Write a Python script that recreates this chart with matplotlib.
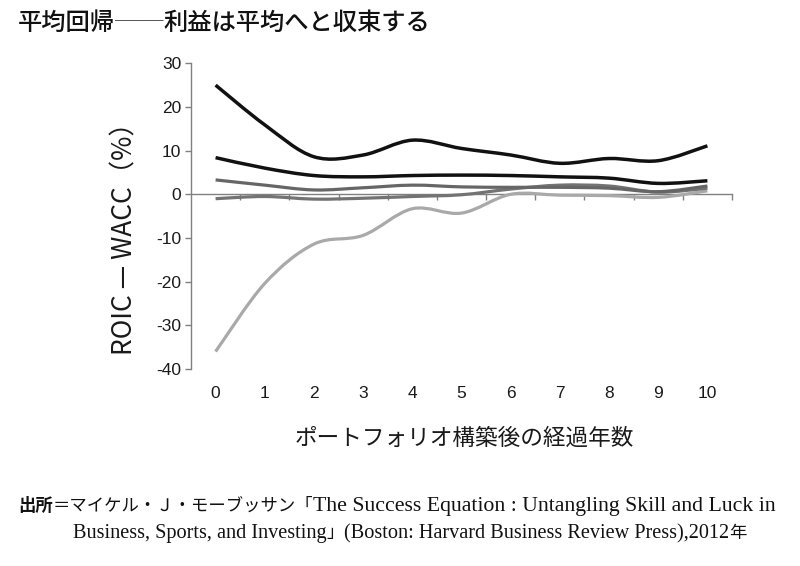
import matplotlib
matplotlib.use("Agg")
import matplotlib.pyplot as plt
from matplotlib.path import Path
from matplotlib.patches import PathPatch

# ---------------- data ----------------
years = list(range(11))
year_labels = [str(y) for y in years]
series_top = [25.0, 15.9, 8.6, 9.0, 12.4, 10.5, 9.0, 7.1, 8.2, 7.7, 11.1]
series_second = [8.4, 6.0, 4.3, 4.0, 4.3, 4.4, 4.3, 4.0, 3.7, 2.5, 3.1]
series_third = [3.3, 2.1, 1.0, 1.5, 2.1, 1.7, 1.6, 1.6, 1.4, 0.6, 1.9]
series_fourth = [-1.0, -0.5, -1.1, -0.9, -0.5, -0.1, 1.2, 2.1, 1.9, 0.5, 1.4]
series_bottom = [-36.0, -20.4, -11.4, -9.4, -3.3, -4.3, 0.0, -0.2, -0.3, -0.7, 0.8]
y_ticks = [30, 20, 10, 0, -10, -20, -30, -40]

title_a = "平均回帰"
title_dash = "──"
title_b = "利益は平均へと収束する"
xlabel = "ポートフォリオ構築後の経過年数"
ylabel = "ROIC — WACC（%）"
src_line1 = [("出所", "head"), ("＝マイケル・Ｊ・モーブッサン「", "cjk"),
             ("The Success Equation : Untangling Skill and Luck in", "latin1")]
src_line2 = [("Business, Sports, and Investing", "latin2"), ("」", "cjk"),
             ("(Boston: Harvard Business Review Press),2012", "latin2"), ("年", "cjk")]

CJK = ["Noto Sans CJK JP", "DejaVu Sans"]
SERIF = ["Liberation Serif", "Noto Sans CJK JP"]


def smooth_path(xs, ys):
    """Smoothed (Catmull-Rom style) Bezier path through the data points."""
    pts = list(zip(xs, ys))
    verts = [pts[0]]
    codes = [Path.MOVETO]
    n = len(pts)
    for i in range(n - 1):
        p0 = pts[i - 1] if i > 0 else pts[i]
        p1 = pts[i]
        p2 = pts[i + 1]
        p3 = pts[i + 2] if i + 2 < n else pts[i + 1]
        c1 = (p1[0] + (p2[0] - p0[0]) / 6.0, p1[1] + (p2[1] - p0[1]) / 6.0)
        c2 = (p2[0] - (p3[0] - p1[0]) / 6.0, p2[1] - (p3[1] - p1[1]) / 6.0)
        verts += [c1, c2, p2]
        codes += [Path.CURVE4] * 3
    return Path(verts, codes)


W, H = 800, 566
fig = plt.figure(figsize=(W / 100, H / 100), dpi=100)
ax_l, ax_r, ax_t, ax_b = 191, 732, 63.3, 369
ax = fig.add_axes([ax_l / W, 1 - ax_b / H, (ax_r - ax_l) / W, (ax_b - ax_t) / H])

axis_col = "#808080"
lines = [
    (series_bottom, "#a9a9a9", 2.3),
    (series_fourth, "#737373", 2.3),
    (series_third, "#666666", 2.3),
    (series_second, "#111111", 2.5),
    (series_top, "#111111", 2.5),
]
for vals, col, lw in lines:
    patch = PathPatch(smooth_path(years, vals), facecolor="none", edgecolor=col,
                      lw=lw, capstyle="butt", joinstyle="round", zorder=3)
    ax.add_patch(patch)

ax.set_xlim(-0.5, 10.5)
ax.set_ylim(-40, 30)

for s in ["top", "right"]:
    ax.spines[s].set_visible(False)
ax.spines["bottom"].set_position(("data", 0))
ax.spines["bottom"].set_color(axis_col)
ax.spines["left"].set_color(axis_col)
ax.spines["bottom"].set_linewidth(1.0)
ax.spines["left"].set_linewidth(1.0)

ax.set_xticks([y + 0.5 for y in years])
ax.set_xticklabels([])
ax.tick_params(axis="x", direction="out", length=4, color=axis_col, width=1)

ax.set_yticks(y_ticks)
ax.set_yticklabels([str(v) for v in y_ticks], fontsize=12.5, family="Liberation Sans",
                   color="#1a1a1a")
ax.tick_params(axis="y", direction="out", length=4, color=axis_col, width=1, pad=3)

sec = ax.secondary_xaxis("bottom")
sec.set_xticks(years)
sec.set_xticklabels(year_labels, fontsize=12.5, family="Liberation Sans", color="#1a1a1a")
sec.tick_params(length=0, pad=12)
sec.spines["bottom"].set_visible(False)

fig.text(464 / W, 1 - 438 / H, xlabel, ha="center", va="center", fontsize=16.3,
         family=CJK, color="#1a1a1a")
fig.text(125 / W, 1 - 232 / H, ylabel, ha="center", va="center", rotation=90,
         fontsize=19, family=CJK, color="#1a1a1a")

renderer = fig.canvas.get_renderer()


def chain(pieces, x0, y0, styles):
    x = x0
    for txt, kind in pieces:
        st = styles[kind]
        t = fig.text(x / W, 1 - y0 / H, txt, ha="left", va="baseline", **st)
        bb = t.get_window_extent(renderer=renderer)
        x += bb.width
    return x


title_styles = {
    "t": dict(fontsize=17.5, family=CJK, weight="medium", color="#111111"),
    "d": dict(fontsize=17.5, family=CJK, weight="light", color="#555555"),
}
chain([(title_a, "t"), (title_dash, "d"), (title_b, "t")], 18, 30, title_styles)

src_styles = {
    "head": dict(fontsize=12.5, family=CJK, weight="bold", color="#111111"),
    "cjk": dict(fontsize=12.5, family=CJK, color="#111111"),
    "latin1": dict(fontsize=15.7, family=SERIF, color="#111111"),
    "latin2": dict(fontsize=14.6, family=SERIF, color="#111111"),
}
chain(src_line1, 18, 511, src_styles)
chain(src_line2, 73, 538, src_styles)

fig.savefig("out.png", dpi=100, facecolor="white")
